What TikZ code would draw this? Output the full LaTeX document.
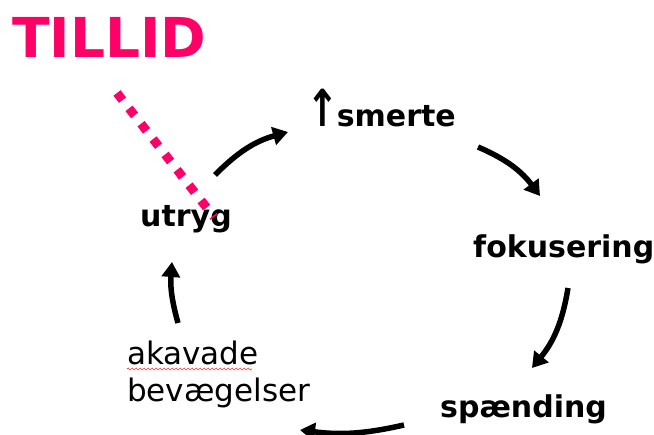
\documentclass[tikz,border=0pt]{standalone}
\usepackage{fontspec}
\usepackage{graphicx}
\setmainfont{DejaVu Sans}
\usetikzlibrary{arrows.meta,decorations.pathmorphing}
\definecolor{tillidpink}{HTML}{FF0066}
\tikzset{
  cyc/.style={-{Triangle[length=15pt,width=18pt]},line width=5.5pt,black},
  word/.style={anchor=base west,inner sep=0pt,font=\fontsize{30}{34}\selectfont\bfseries},
  plain/.style={anchor=base west,inner sep=0pt,align=left,font=\fontsize{31}{37}\selectfont},
  tillid/.style={anchor=base west,inner sep=0pt,text=tillidpink,
    font=\fontsize{55}{60}\selectfont\bfseries},
  trust/.style={tillidpink,line width=9pt,dash pattern=on 9pt off 10.5pt},
  spell/.style={red!80,line width=0.7pt,decorate,
    decoration={snake,amplitude=1pt,segment length=4pt}},
}
\begin{document}
\begin{tikzpicture}[x=1pt,y=-1pt]
  \useasboundingbox (0,0) rectangle (654,435);
  \node[tillid] (tillid) at (12,58) {TILLID};
  \node[word] (utryg) at (140,227) {utryg};
  \node[word] (smerte) at (306,127) {\scalebox{1.3}[1.7]{↑}\kern-2pt smerte};
  \node[word] (fokus) at (473,258) {fokusering};
  \node[word] (spaend) at (440,418) {spænding};
  \node[plain] (akavade) at (127,402) {akavade\\bevægelser};
  \draw[spell] ([shift={(0,-33)}]akavade.base west) -- ++(125,0);
  \draw[trust] ([shift={(105,35)}]tillid.base west) -- ([shift={(74,-10)}]utryg.base west);
  \draw[cyc] ([shift={(75,-52)}]utryg.base west) to[bend left=15] ([shift={(-18,5)}]smerte.base west);
  \draw[cyc] ([shift={(172,20)}]smerte.base west) to[bend left=15] ([shift={(67,-62)}]fokus.base west);
  \draw[cyc] ([shift={(95,30)}]fokus.base west) to[bend left=15] ([shift={(92,-50)}]spaend.base west);
  \draw[cyc] ([shift={(-36,7)}]spaend.base west) to[bend left=10] ([shift={(173,28)}]akavade.base west);
  \draw[cyc] ([shift={(51,-79)}]akavade.base west) to[bend left=10] ([shift={(32,35)}]utryg.base west);
\end{tikzpicture}
\end{document}
